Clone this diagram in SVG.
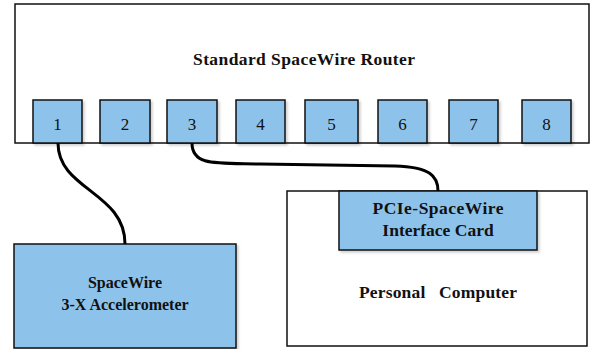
<svg xmlns="http://www.w3.org/2000/svg" width="592" height="349" viewBox="0 0 592 349">
<defs>
<filter id="sh" x="-10%" y="-10%" width="130%" height="130%"><feDropShadow dx="2" dy="2" stdDeviation="1" flood-color="#000" flood-opacity="0.18"/></filter>
</defs>
<style>
.box{fill:#fff;stroke:#111;stroke-width:1.5}
.blue{fill:#8DC3EA;stroke:#111;stroke-width:1.5;filter:url(#sh)}
.port{fill:#8DC3EA;stroke:#111;stroke-width:1.5;filter:url(#sh)}
.t{font-family:"Liberation Serif","Times New Roman",serif;font-weight:bold;font-size:16px;fill:#111;text-anchor:middle}
.l{font-size:17.5px}
.n{font-family:"Liberation Serif","Times New Roman",serif;font-size:17px;fill:#111;text-anchor:middle}
.cable{fill:none;stroke:#000;stroke-width:3}
</style>
<rect width="592" height="349" fill="#fff"/>
<g id="router">
<rect class="box" x="15" y="4" width="574" height="139"/>
<text class="t l" x="304" y="65" textLength="222" lengthAdjust="spacing">Standard SpaceWire Router</text>
</g>
<g id="port1"><rect class="port" x="33" y="100" width="49" height="43"/><text class="n" x="57.5" y="130">1</text></g>
<g id="port2"><rect class="port" x="100" y="100" width="50" height="43"/><text class="n" x="125" y="130">2</text></g>
<g id="port3"><rect class="port" x="167" y="100" width="50" height="43"/><text class="n" x="192" y="130">3</text></g>
<g id="port4"><rect class="port" x="236" y="100" width="49" height="43"/><text class="n" x="260.5" y="130">4</text></g>
<g id="port5"><rect class="port" x="305" y="100" width="53" height="43"/><text class="n" x="331.5" y="130">5</text></g>
<g id="port6"><rect class="port" x="378" y="100" width="49" height="43"/><text class="n" x="402.5" y="130">6</text></g>
<g id="port7"><rect class="port" x="449" y="100" width="49" height="43"/><text class="n" x="473.5" y="130">7</text></g>
<g id="port8"><rect class="port" x="522" y="100" width="49" height="43"/><text class="n" x="546.5" y="130">8</text></g>
<g id="accelerometer">
<rect class="blue" x="14" y="244" width="222" height="104"/>
<text class="t" x="125" y="288">SpaceWire</text>
<text class="t" x="125" y="310">3-X Accelerometer</text>
</g>
<g id="pc">
<rect class="box" x="287" y="191" width="300" height="155"/>
<text class="t l" x="438" y="298" xml:space="preserve" textLength="158" lengthAdjust="spacing">Personal   Computer</text>
</g>
<g id="card">
<rect class="blue" x="339" y="191" width="198" height="59"/>
<text class="t l" x="438" y="214" textLength="131" lengthAdjust="spacing">PCIe-SpaceWire</text>
<text class="t l" x="438" y="236">Interface Card</text>
</g>
<g id="connectors">
<path class="cable" d="M58,143 C58,190 125,192 125,244"/>
<path class="cable" d="M192,143 C192,166 215,163 260,164 L395,166 C430,167 438,176 438,191"/>
</g>
</svg>
